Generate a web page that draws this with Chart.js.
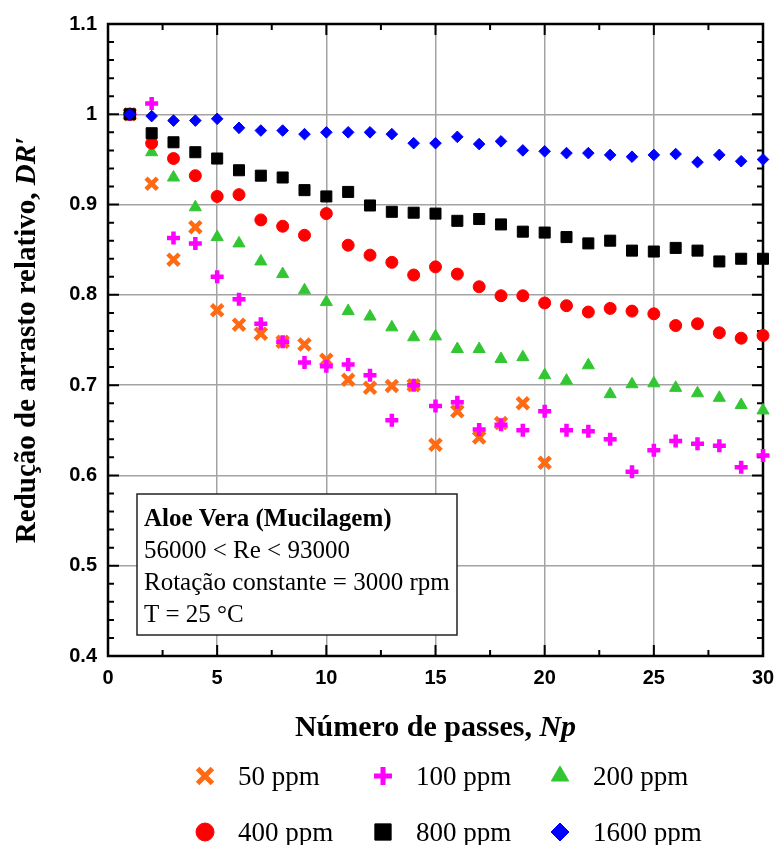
<!DOCTYPE html>
<html>
<head>
<meta charset="utf-8">
<script src="https://cdn.jsdelivr.net/npm/chart.js@4.4.1/dist/chart.umd.min.js"></script>
<style>
  html, body { margin: 0; padding: 0; background: #fff; }
  canvas { display: block; }
</style>
</head>
<body>
<canvas id="drChart" width="777" height="845"></canvas>
<script>
// numero de passes (Np)
var passes = [1, 2, 3, 4, 5, 6, 7, 8, 9, 10, 11, 12, 13, 14, 15,
              16, 17, 18, 19, 20, 21, 22, 23, 24, 25, 26, 27, 28, 29, 30];

// DR' por concentracao
var dr50 = [1.000, 0.923, 0.839, 0.875, 0.783, 0.767, 0.757, 0.748, 0.745, 0.728,
            0.706, 0.697, 0.699, 0.700, 0.634, 0.671, 0.642, 0.658, 0.680, 0.614];
var dr100 = [1.000, 1.012, 0.863, 0.857, 0.820, 0.795, 0.768, 0.748, 0.725, 0.721,
             0.723, 0.711, 0.661, 0.700, 0.677, 0.681, 0.651, 0.656, 0.650, 0.671,
             0.650, 0.649, 0.640, 0.604, 0.628, 0.638, 0.635, 0.633, 0.609, 0.622];
var dr200 = [1.000, 0.958, 0.930, 0.897, 0.864, 0.857, 0.837, 0.823, 0.805, 0.792,
             0.782, 0.776, 0.764, 0.753, 0.754, 0.740, 0.740, 0.729, 0.731, 0.711,
             0.705, 0.722, 0.690, 0.701, 0.702, 0.697, 0.691, 0.686, 0.678, 0.672];
var dr400 = [1.000, 0.968, 0.951, 0.932, 0.909, 0.911, 0.883, 0.876, 0.866, 0.890,
             0.855, 0.844, 0.836, 0.822, 0.831, 0.823, 0.809, 0.799, 0.799, 0.791,
             0.788, 0.781, 0.785, 0.782, 0.779, 0.766, 0.768, 0.758, 0.752, 0.755];
var dr800 = [1.000, 0.979, 0.969, 0.958, 0.951, 0.938, 0.932, 0.930, 0.916, 0.909,
             0.914, 0.899, 0.892, 0.891, 0.890, 0.882, 0.884, 0.878, 0.870, 0.869,
             0.864, 0.857, 0.860, 0.849, 0.848, 0.852, 0.849, 0.837, 0.840, 0.840];
var dr1600 = [1.000, 0.998, 0.993, 0.993, 0.995, 0.985, 0.982, 0.982, 0.978, 0.980,
              0.980, 0.980, 0.978, 0.968, 0.968, 0.975, 0.967, 0.970, 0.960, 0.959,
              0.957, 0.957, 0.955, 0.953, 0.955, 0.956, 0.947, 0.955, 0.948, 0.950];

var seriesLabels = ['50 ppm', '100 ppm', '200 ppm', '400 ppm', '800 ppm', '1600 ppm'];

var infoLines = ['Aloe Vera (Mucilagem)', '56000 < Re < 93000',
                 'Rotação constante = 3000 rpm', 'T = 25 °C'];

var SERIF = '"Liberation Serif", "Times New Roman", serif';
var SANS = '"Liberation Sans", Arial, sans-serif';

function pts(vals) {
    return vals.map(function(v, i) { return { x: passes[i], y: v }; });
}

function makeSet(label, vals, style, color, radius, bw, order) {
    return {
        label: label,
        data: pts(vals),
        showLine: false,
        pointStyle: style,
        pointRadius: radius,
        pointHoverRadius: radius,
        pointBackgroundColor: color,
        pointBorderColor: color,
        pointBorderWidth: bw,
        pointHoverBorderWidth: bw,
        order: order,
        clip: false
    };
}

var datasets = [
    makeSet(seriesLabels[0], dr50, 'crossRot', '#ff6a13', 8, 4.5, 6),
    makeSet(seriesLabels[1], dr100, 'cross', '#ff00ff', 6.5, 4.5, 5),
    makeSet(seriesLabels[2], dr200, 'triangle', '#33c633', 7, 1, 4),
    makeSet(seriesLabels[3], dr400, 'circle', '#ff0000', 6, 1, 3),
    makeSet(seriesLabels[4], dr800, 'rect', '#000000', 7.8, 1, 2),
    makeSet(seriesLabels[5], dr1600, 'rectRot', '#0000ff', 5.8, 1, 1)
];

// moldura, ticks internos, rotulos, caixa de texto e legenda
var decorations = {
    id: 'decorations',
    beforeDatasetsDraw: function(chart) {
        var ctx = chart.ctx;
        var a = chart.chartArea;
        var xs = chart.scales.x, ys = chart.scales.y;
        ctx.save();

        // caixa de informacoes
        ctx.fillStyle = '#fff';
        ctx.fillRect(137, 494, 320, 141);
        ctx.strokeStyle = '#222';
        ctx.lineWidth = 1.5;
        ctx.strokeRect(137, 494, 320, 141);
        ctx.fillStyle = '#000';
        ctx.textAlign = 'left';
        ctx.textBaseline = 'alphabetic';
        var lineY = [526, 558, 590, 622];
        infoLines.forEach(function(t, i) {
            ctx.font = (i === 0 ? 'bold ' : '') + '25px ' + SERIF;
            ctx.fillText(t, 144, lineY[i]);
        });

        // ticks
        ctx.strokeStyle = '#000';
        ctx.lineWidth = 2;
        ctx.beginPath();
        var v, p, len;
        for (v = 0; v <= 30.001; v += 2.5) {
            p = xs.getPixelForValue(v);
            len = (Math.abs(v % 5) < 0.01) ? 11 : 6;
            ctx.moveTo(p, a.bottom); ctx.lineTo(p, a.bottom - len);
            ctx.moveTo(p, a.top); ctx.lineTo(p, a.top + len);
        }
        for (var k = 0; k <= 35; k++) {
            v = 0.4 + k * 0.02;
            p = ys.getPixelForValue(v);
            len = (k % 5 === 0) ? 11 : 6;
            ctx.moveTo(a.left, p); ctx.lineTo(a.left + len, p);
            ctx.moveTo(a.right, p); ctx.lineTo(a.right - len, p);
        }
        ctx.stroke();

        // moldura
        ctx.lineWidth = 2.5;
        ctx.strokeRect(a.left, a.top, a.right - a.left, a.bottom - a.top);
        ctx.restore();
    },
    afterDraw: function(chart) {
        var ctx = chart.ctx;
        var a = chart.chartArea;
        var xs = chart.scales.x, ys = chart.scales.y;
        ctx.save();
        ctx.fillStyle = '#000';

        // rotulos dos eixos
        ctx.font = 'bold 20px ' + SANS;
        ctx.textAlign = 'right';
        ctx.textBaseline = 'middle';
        ys.ticks.forEach(function(t) {
            ctx.fillText(String(+t.value.toFixed(1)), a.left - 11, ys.getPixelForValue(t.value));
        });
        ctx.textAlign = 'center';
        ctx.textBaseline = 'top';
        xs.ticks.forEach(function(t) {
            ctx.fillText(String(t.value), xs.getPixelForValue(t.value), a.bottom + 12);
        });

        // titulo do eixo x
        var cx = (a.left + a.right) / 2;
        ctx.textBaseline = 'middle';
        ctx.font = 'bold 30px ' + SERIF;
        var part1 = 'Número de passes, ';
        var w1 = ctx.measureText(part1).width;
        ctx.font = 'italic bold 30px ' + SERIF;
        var w2 = ctx.measureText('Np').width;
        var x0 = cx - (w1 + w2) / 2;
        ctx.textAlign = 'left';
        ctx.font = 'bold 30px ' + SERIF;
        ctx.fillText(part1, x0, 728);
        ctx.font = 'italic bold 30px ' + SERIF;
        ctx.fillText('Np', x0 + w1, 728);

        // titulo do eixo y
        ctx.save();
        ctx.translate(28, (a.top + a.bottom) / 2);
        ctx.rotate(-Math.PI / 2);
        ctx.font = 'bold 29px ' + SERIF;
        var yt1 = 'Redução de arrasto relativo, ';
        var yw1 = ctx.measureText(yt1).width;
        ctx.font = 'italic bold 29px ' + SERIF;
        var yw2 = ctx.measureText('DR′').width;
        var y0 = -(yw1 + yw2) / 2;
        ctx.font = 'bold 29px ' + SERIF;
        ctx.fillText(yt1, y0, 0);
        ctx.font = 'italic bold 29px ' + SERIF;
        ctx.fillText('DR′', y0 + yw1, 0);
        ctx.restore();

        // legenda em duas linhas
        var colX = [205, 383, 560];
        var rowY = [776, 832];
        var sizes = [10.5, 9, 10, 9, 11.5, 9];
        chart.data.datasets.forEach(function(ds, i) {
            var mx = colX[i % 3], my = rowY[Math.floor(i / 3)];
            var isLine = ds.pointStyle === 'cross' || ds.pointStyle === 'crossRot';
            ctx.fillStyle = ds.pointBackgroundColor;
            ctx.strokeStyle = ds.pointBorderColor;
            ctx.lineWidth = isLine ? 5 : 1;
            Chart.helpers.drawPoint(ctx, {
                pointStyle: ds.pointStyle,
                radius: sizes[i],
                rotation: 0,
                borderWidth: ctx.lineWidth
            }, mx, my);
            ctx.fillStyle = '#000';
            ctx.font = '27px ' + SERIF;
            ctx.textAlign = 'left';
            ctx.textBaseline = 'alphabetic';
            ctx.fillText(ds.label, mx + 33, my + 9);
        });
        ctx.restore();
    }
};

var chart = new Chart(document.getElementById('drChart').getContext('2d'), {
    type: 'scatter',
    data: { datasets: datasets },
    options: {
        responsive: false,
        animation: false,
        devicePixelRatio: 1,
        layout: { padding: { left: 108, right: 14, top: 24, bottom: 189 } },
        scales: {
            x: {
                type: 'linear',
                min: 0,
                max: 30,
                ticks: { stepSize: 5, display: false },
                grid: { color: '#a3a3a3', lineWidth: 1.5, drawTicks: false },
                border: { display: false }
            },
            y: {
                type: 'linear',
                min: 0.4,
                max: 1.1,
                ticks: { stepSize: 0.1, display: false },
                grid: { color: '#a3a3a3', lineWidth: 1.5, drawTicks: false },
                border: { display: false }
            }
        },
        plugins: {
            legend: { display: false },
            tooltip: { enabled: false }
        }
    },
    plugins: [decorations]
});
</script>
</body>
</html>
